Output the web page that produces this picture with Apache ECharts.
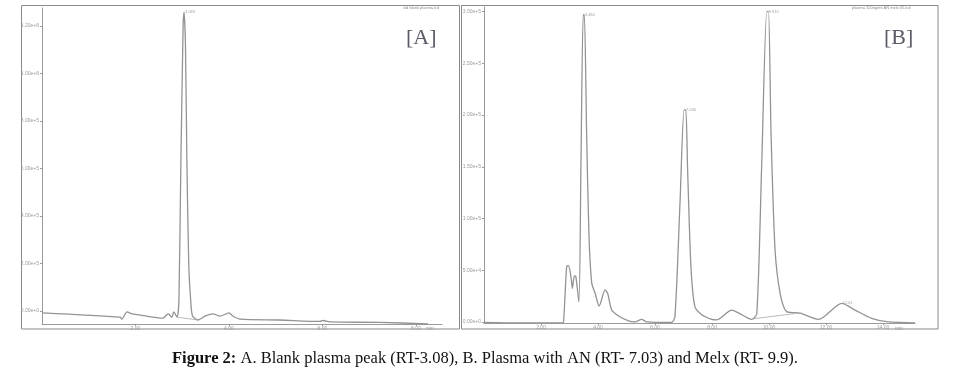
<!DOCTYPE html>
<html>
<head>
<meta charset="utf-8">
<script src="https://cdn.jsdelivr.net/npm/echarts@6/dist/echarts.min.js"></script>
<style>
html,body{margin:0;padding:0;background:#fff;}
#c{width:970px;height:392px;}
</style>
</head>
<body>
<div id="c"></div>
<script>
// ---- Data (time in min, response in y-tick units) ----
const timeA = [0,1.67,1.71,1.82,1.93,2.59,2.70,2.78,2.82,2.89,2.93,2.97,3.02,3.04,3.07,3.10,3.14,3.18,3.22,3.34,3.49,3.66,3.81,4.00,4.09,4.24,5.09,5.95,6.01,6.16,7.23,8.26];
const signalA = [-0.04,-0.13,-0.17,-0.02,-0.06,-0.15,-0.06,-0.13,-0.02,-0.13,0.23,3.0,6.0,6.29,5.6,3.2,1.0,0.25,-0.10,-0.19,-0.11,-0.06,-0.11,-0.04,-0.11,-0.17,-0.19,-0.22,-0.20,-0.23,-0.24,-0.27];

const timeB = [0,1.5,2.73,2.79,2.90,2.96,3.05,3.10,3.17,3.22,3.33,3.40,3.48,3.52,3.60,3.68,3.78,3.90,4.04,4.25,4.34,4.48,4.71,5.07,5.30,5.53,5.71,6.58,6.70,6.88,7.02,7.08,7.14,7.26,7.40,7.64,7.99,8.16,8.69,9.04,9.39,9.57,9.74,9.92,9.98,10.07,10.21,10.39,10.62,11.09,11.74,12.55,13.02,13.60,14.19,15.12];
const signalB = [-0.01,-0.02,-0.02,0.0,1.07,1.09,0.88,0.65,0.89,0.88,0.39,3.0,5.94,5.94,3.65,1.72,0.75,0.55,0.31,0.62,0.55,0.23,0.12,0.02,0.0,0.05,0.0,-0.01,0.11,2.36,4.10,4.10,3.0,1.07,0.29,0.14,0.05,0.04,0.23,0.14,0.05,0.16,3.0,6.0,6.0,3.65,1.4,0.55,0.2,0.17,0.05,0.36,0.23,0.07,0.0,-0.02];

// integration baselines drawn by the data system
const baseTimeA = [2.89,3.34];
const baseSignalA = [-0.13,-0.19];
const baseTimeB = [9.42,10.88];
const baseSignalB = [0.06,0.16];

// peak retention-time tags
const peakTimeA = [3.04];
const peakSignalA = [6.29];
const peakLabelA = ['3.083'];
const peakTimeB = [3.50,7.05,9.95,12.55];
const peakSignalB = [5.94,4.10,6.0,0.36];
const peakLabelB = ['3.484','7.030','9.910','12.61'];

// tick labels
const yTickValsA = [0,1,2,3,4,5,6];
const yTickLabelsA = ['0.00e+0','2.00e+5','4.00e+5','6.00e+5','8.00e+5','1.00e+6','1.20e+6'];
const xTickValsA = [2,4,6,8];
const xTickLabelsA = ['2.00','4.00','6.00','8.00'];
const yTickValsB = [0,1,2,3,4,5,6];
const yTickLabelsB = ['0.00e+0','5.00e+4','1.00e+5','1.50e+5','2.00e+5','2.50e+5','3.00e+5'];
const xTickValsB = [2,4,6,8,10,12,14];
const xTickLabelsB = ['2.00','4.00','6.00','8.00','10.00','12.00','14.00'];

const panelTitles = ['[A]','[B]'];
const fileNames = ['std blank plasma.lcd','plasma 100ng/ml AN melx 05.lcd'];
const captionBold = 'Figure 2:';
const captionText = ' A. Blank plasma peak (RT-3.08), B. Plasma with AN (RT- 7.03) and Melx (RT- 9.9).';

// ---- build ----
const zip = (a,b) => a.map((v,i)=>[v,b[i]]);
const lineCol = '#939393';
const axCol = '#9a9a9a';
const tinyFont = {fontSize:5, color:'#9a9a9a', fontFamily:'Liberation Sans'};

function makeX(idx, max, vals, labels){
  return {
    type:'value', gridIndex:idx, min:0, max:max,
    axisLine:{show:true, onZero:false, lineStyle:{color:axCol, width:1}},
    axisTick:{show:true, length:2, customValues:vals, lineStyle:{color:axCol}},
    axisLabel:Object.assign({show:true, margin:2, customValues:vals,
      formatter:(v)=>{const i=vals.indexOf(v); return i>=0?labels[i]:'';}}, tinyFont),
    splitLine:{show:false}
  };
}
function makeY(idx, min, max, vals, labels){
  return {
    type:'value', gridIndex:idx, min:min, max:max,
    axisLine:{show:true, onZero:false, lineStyle:{color:axCol, width:1}},
    axisTick:{show:true, length:2, customValues:vals, lineStyle:{color:axCol}},
    axisLabel:Object.assign({show:true, margin:3, customValues:vals,
      formatter:(v)=>{const i=vals.indexOf(v); return i>=0?labels[i]:'';}}, tinyFont),
    splitLine:{show:false}
  };
}

const chart = echarts.init(document.getElementById('c'), null, {renderer:'canvas'});
chart.setOption({
  backgroundColor:'#ffffff',
  animation:false,
  grid:[
    {left:42, top:8, width:400, height:316, containLabel:false, outerBoundsMode:'none'},
    {left:484, top:7, width:431, height:316, containLabel:false, outerBoundsMode:'none'}
  ],
  xAxis:[
    makeX(0, 8.56, xTickValsA, xTickLabelsA),
    makeX(1, 15.12, xTickValsB, xTickLabelsB)
  ],
  yAxis:[
    makeY(0, -0.274, 6.38, yTickValsA, yTickLabelsA),
    makeY(1, -0.02, 6.09, yTickValsB, yTickLabelsB)
  ],
  series:[
    {type:'line', xAxisIndex:0, yAxisIndex:0, data:zip(timeA,signalA), symbol:'none', smooth:0.25,
     lineStyle:{color:lineCol, width:1.3}},
    {type:'line', xAxisIndex:0, yAxisIndex:0, data:zip(baseTimeA,baseSignalA), symbol:'none',
     lineStyle:{color:'#a8a8a8', width:0.8}},
    {type:'scatter', xAxisIndex:0, yAxisIndex:0, data:zip(peakTimeA,peakSignalA), symbolSize:0,
     label:{show:true, position:'right', distance:1, fontSize:4, color:'#888',
       formatter:(p)=>peakLabelA[p.dataIndex]}},
    {type:'line', xAxisIndex:1, yAxisIndex:1, data:zip(timeB,signalB), symbol:'none', smooth:0.25,
     lineStyle:{color:lineCol, width:1.3}},
    {type:'line', xAxisIndex:1, yAxisIndex:1, data:zip(baseTimeB,baseSignalB), symbol:'none',
     lineStyle:{color:'#a8a8a8', width:0.8}},
    {type:'scatter', xAxisIndex:1, yAxisIndex:1, data:zip(peakTimeB,peakSignalB), symbolSize:0,
     label:{show:true, position:'right', distance:1, fontSize:4, color:'#888',
       formatter:(p)=>peakLabelB[p.dataIndex]}}
  ],
  graphic:[
    {type:'rect', shape:{x:21.5, y:5.5, width:438, height:323.5}, style:{fill:'none', stroke:'#8a8a8a', lineWidth:1}},
    {type:'rect', shape:{x:461.5, y:5.5, width:476.5, height:323.5}, style:{fill:'none', stroke:'#8a8a8a', lineWidth:1}},
    {type:'text', left:406, top:27, style:{text:panelTitles[0], font:'22px "Liberation Serif"', fill:'#5a5a66'}},
    {type:'text', left:884, top:27, style:{text:panelTitles[1], font:'22px "Liberation Serif"', fill:'#5a5a66'}},
    {type:'text', left:403, top:6, style:{text:fileNames[0], font:'4px "Liberation Sans"', fill:'#8a8a8a'}},
    {type:'text', left:852, top:6, style:{text:fileNames[1], font:'4px "Liberation Sans"', fill:'#8a8a8a'}},
    {type:'text', left:426, top:326, style:{text:'min', font:'5px "Liberation Sans"', fill:'#9a9a9a'}},
    {type:'text', left:895, top:326, style:{text:'min', font:'5px "Liberation Sans"', fill:'#9a9a9a'}},
    {type:'text', left:'center', top:350, style:{
      text:'{b|'+captionBold+'}{n|'+captionText+'}',
      rich:{
        b:{font:'bold 16.5px "Liberation Serif"', fill:'#111'},
        n:{font:'16.5px "Liberation Serif"', fill:'#111'}
      }}}
  ]
});
</script>
</body>
</html>
